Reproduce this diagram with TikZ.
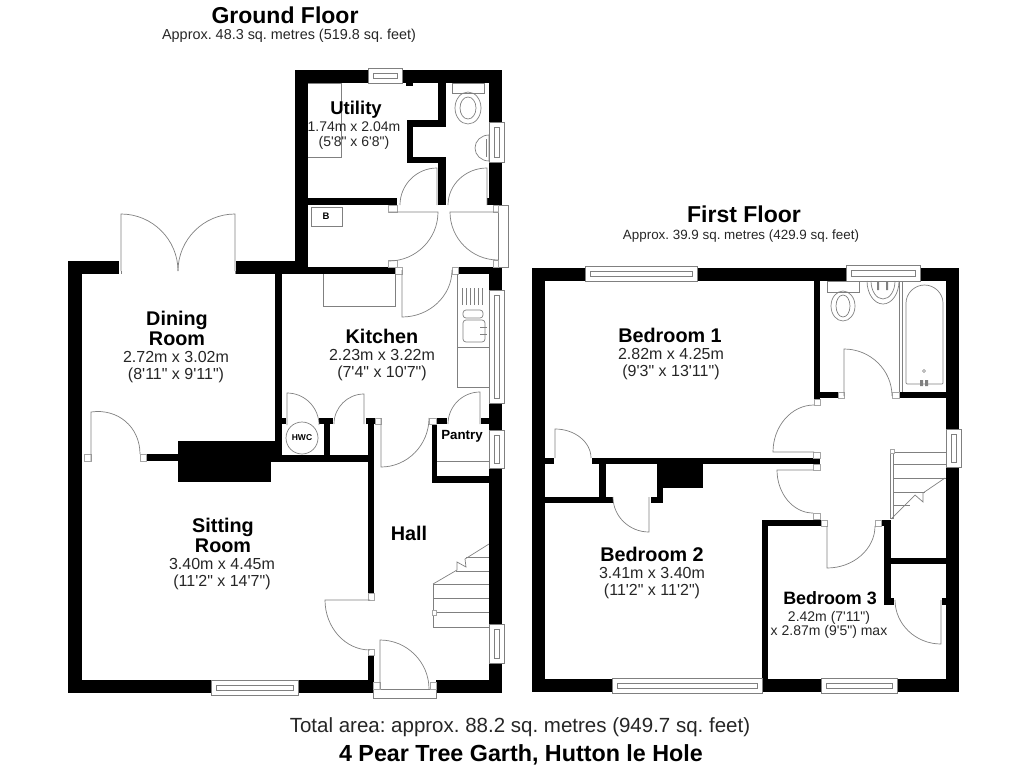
\documentclass[tikz,border=0pt]{standalone}
\usepackage{fontspec}
\defaultfontfeatures[\rmfamily]{}
\setmainfont{Liberation Sans}
\usetikzlibrary{calc}
\frenchspacing

\definecolor{linegray}{gray}{0.5}

\newcommand{\door}[3]{\draw[doorline] (#1) -- (#2) .. controls ($(#2)+0.55*(#3)-0.55*(#1)$) and ($(#3)+0.55*(#2)-0.55*(#1)$) .. (#3);}

\begin{document}
\begin{tikzpicture}[x=1pt,y=-1pt,
                    wall/.style={fill=black,draw=none},
                    doorline/.style={draw=linegray,line width=0.7pt},
                    fitting/.style={draw=linegray,line width=0.7pt},
                    jamb/.style={draw=linegray!70,fill=white,line width=0.6pt},
                    windowbox/.style={draw=linegray,fill=white,line width=0.7pt},
                    title node/.style={font=\bfseries\fontsize{23}{23}\selectfont,align=center},
                    area node/.style={font=\fontsize{14.4}{14.4}\selectfont,text=black!85},
                    room node/.style={font=\bfseries\fontsize{19.8}{20}\selectfont,align=center,inner sep=0pt},
                    size node/.style={font=\fontsize{16}{17}\selectfont,align=center,inner sep=0pt,text=black!85}]

  \useasboundingbox (0,0) rectangle (1024,768);

  % walls, ground floor
  \foreach \xa/\ya/\xb/\yb in {295/70/502/83,295/70/308/274,489/70/502/205,438/83/446/127,407/120/446/127,
      407/120/413/163,407/157/446/163,438/157/446/205,406/83/413/86,308/198/397/205,487/198/489/205,
      68/261/119/274,236/261/308/274,295/267/395/274,458/267/502/274,68/261/82/693,275/274/282/461,
      178/441/282/461,178/441/271/482,146/454/178/461,271/455/368/462,282/418/286/424,319/418/333/424,
      324/418/330/455,366/418/375/424,368/418/374/593,368/655/374/693,68/680/374/693,436/680/502/693,
      489/267/502/693,432/418/447/424,432/418/437/483,432/476/489/483,481/418/489/424}
    \fill[wall] (\xa,\ya) rectangle (\xb,\yb);

  % walls, first floor
  \foreach \xa/\ya/\xb/\yb in {532/268/959/281,532/268/545/692,946/268/959/692,532/679/959/692,814/281/820/399,
      814/392/838/398,899/392/946/398,592/458/820/464,545/458/554/464,599/464/606/503,545/497/613/503,
      657/464/703/488,657/488/663/503,651/497/663/503,762/520/821/526,762/520/768/680,884/520/891/605,
      891/558/946/564,884/598/894/605,942/598/946/605,881/520/891/526}
    \fill[wall] (\xa,\ya) rectangle (\xb,\yb);

  % windows along the top and bottom walls
  \foreach \xa/\xb/\ya/\yb in {368/402/68/83,211/298/680/695,585/697/266/281,846/920/265/281,612/762/678/693,821/897/678/693}{
    \filldraw[windowbox] (\xa,\ya) rectangle (\xb,\yb);
    \draw[fitting] (\xa+5,\ya+5) rectangle (\xb-5,\yb-5);
  }

  % windows along the side walls
  \foreach \xa/\xb/\ya/\yb in {489/504/122/162,489/504/290/403,489/504/430/468,489/504/624/663,946/961/429/467}{
    \filldraw[windowbox] (\xa,\ya) rectangle (\xb,\yb);
    \draw[fitting] (\xa+5,\ya+5) rectangle (\xb-5,\yb-5);
  }

  % outside door frames
  \filldraw[windowbox] (498,205) rectangle (508,267);
  \filldraw[windowbox] (373,689) rectangle (436,698);

  % door jambs
  \foreach \xa/\ya/\xb/\yb in {388/205/397/212,388/260/397/267,493/205/498/212,493/260/498/267,395/267/402/274,452/267/458/274,
      84/454/91/461,140/454/146/461,375/418/381/424,429/418/436/424,368/593/374/600,368/649/374/655,373/682/380/689,430/682/436/689,
      838/392/844/398,892/392/899/398,814/399/820/405,813/452/820/458,813/464/820/470,813/513/820/519,821/520/827/526,875/520/881/526}
    \filldraw[jamb] (\xa,\ya) rectangle (\xb,\yb);

  % doors, ground floor
  \door{437,205}{437,168}{400,205}
  \door{487,205}{487,168}{448,205}
  \door{389,212}{438,212}{389,261}
  \door{498,212}{450,212}{498,260}
  \door{402,270}{402,317}{452,270}
  \door{121,271}{121,214}{178,271}
  \door{235,271}{235,214}{178,271}
  \draw[doorline] (121,271) -- (121,274) (235,271) -- (235,274);
  \door{91,461}{91,412}{140,454}
  \door{287,425}{287,393}{319,425}
  \door{364,424}{364,394}{334,424}
  \door{381,418}{381,467}{429,418}
  \door{480,424}{480,392}{448,424}
  \door{370,600}{325,600}{370,650}
  \door{380,689}{380,640}{429,689}

  % doors, first floor
  \door{844,396}{844,349}{892,396}
  \door{814,452}{773,452}{814,405}
  \door{813,470}{777,470}{813,513}
  \door{827,526}{827,568}{875,526}
  \door{941,600}{941,644}{895,600}
  \door{555,458}{555,429}{591,458}
  \door{649,497}{649,532}{613,497}

  % utility and boiler
  \draw[fitting] (308,83) -- (341,83) -- (341,157) -- (308,157);
  \draw[fitting] (311,207) rectangle (342,226);
  \node[font=\bfseries\fontsize{9.5}{9}\selectfont] (boiler) at (326,216) {B};

  % ground floor toilet and basin
  \draw[fitting] (452,83) rectangle (484,93);
  \draw[fitting] (468,108) ellipse [x radius=13,y radius=16];
  \draw[fitting] (468,108) ellipse [x radius=8,y radius=11];
  \draw[fitting] (489,135) arc [start angle=-90,end angle=-270,x radius=14,y radius=13] -- cycle;
  \draw[fitting] (486,139) -- (486,157);

  % kitchen fittings
  \draw[fitting] (323,274) -- (323,306) -- (395,306) -- (395,274);
  \draw[fitting] (457,274) -- (457,387) -- (489,387);
  \draw[fitting] (457,347) -- (489,347);
  \foreach \x in {462,466,...,482}
    \draw[fitting,line width=0.5pt] (\x,288) -- (\x,305);
  \draw[fitting,rounded corners=3pt] (463,310) rectangle (483,318);
  \draw[fitting,rounded corners=3pt] (463,320) rectangle (485,342);
  \draw[fitting,line width=0.5pt] (480,327) -- (487,327) (480,334) -- (487,334);
  \draw[fitting] (302,438) circle [radius=16];
  \node[font=\bfseries\fontsize{8.5}{9}\selectfont] (hwc) at (302,438) {HWC};
  \draw[fitting] (437,461) -- (489,461);

  % stairs in the hall
  \draw[fitting] (433,584) -- (433,627) -- (489,627);
  \foreach \y in {584,598,612}
    \draw[fitting] (433,\y) -- (489,\y);
  \draw[fitting] (456,571) -- (489,571) (466,557) -- (489,557);
  \draw[fitting] (433,584) -- (457,570) -- (457,562) -- (466,567) -- (465,559) -- (489,544);
  \filldraw[jamb] (432,610) rectangle (436,615);

  % bathroom
  \draw[fitting] (902,281) -- (902,392);
  \draw[fitting] (899,281) -- (899,392);
  \draw[fitting,rounded corners=1pt] (906,384) -- (906,304) arc [start angle=180,end angle=360,x radius=18.5,y radius=19] -- (943,384) -- cycle;
  \fill[linegray] (920,380) rectangle (923,386) (925,380) rectangle (928,386);
  \draw[fitting,line width=0.5pt] (924,371) circle [radius=1.5];
  \draw[fitting] (827,281) rectangle (859,292);
  \draw[fitting] (843,306) ellipse [x radius=12,y radius=15];
  \draw[fitting] (843,306) ellipse [x radius=7,y radius=11];
  \draw[fitting] (867,281) arc [start angle=180,end angle=0,x radius=16,y radius=23];
  \draw[fitting] (871,281) arc [start angle=180,end angle=0,x radius=12,y radius=18];
  \fill[linegray] (877,281) rectangle (879,290) (886,281) rectangle (888,290);

  % stairs on the landing
  \draw[fitting] (890,452) rectangle (893,518);
  \foreach \y in {452,464,478}
    \draw[fitting] (893,\y) -- (946,\y);
  \draw[fitting] (893,492) -- (925,492) (893,505) -- (910,505);
  \draw[fitting] (892,518) -- (915,495) -- (923,502) -- (923,493) -- (945,478);
  \filldraw[jamb] (890,449) rectangle (894,453);

  % headings
  \node[title node] (ground) at (285,15) {Ground Floor};
  \node[area node] (groundarea) at (289,36) {Approx. 48.3 sq. metres (519.8 sq. feet)};
  \node[title node] (first) at (744,214) {First Floor};
  \node[area node,font=\fontsize{13.4}{13.4}\selectfont] (firstarea) at (741,236) {Approx. 39.9 sq. metres (429.9 sq. feet)};

  % rooms, ground floor
  \node[room node,font=\bfseries\fontsize{18.5}{20}\selectfont] (utility) at (356,110) {Utility};
  \node[size node,font=\fontsize{14}{15}\selectfont] (utilitysize) at (354,136) {1.74m x 2.04m\\(5'8" x 6'8")};
  \node[room node] (dining) at (177,328) {Dining\\Room};
  \node[size node] (diningsize) at (176,367) {2.72m x 3.02m\\(8'11" x 9'11")};
  \node[room node] (kitchen) at (382,336) {Kitchen};
  \node[size node] (kitchensize) at (382,365) {2.23m x 3.22m\\(7'4" x 10'7")};
  \node[font=\bfseries\fontsize{13.3}{13}\selectfont,inner sep=0pt] (pantry) at (462,436) {Pantry};
  \node[room node] (sitting) at (223,535) {Sitting\\Room};
  \node[size node] (sittingsize) at (222,574) {3.40m x 4.45m\\(11'2" x 14'7")};
  \node[room node] (hall) at (409,533) {Hall};

  % rooms, first floor
  \node[room node] (bedone) at (670,335) {Bedroom 1};
  \node[size node] (bedonesize) at (671,364) {2.82m x 4.25m\\(9'3" x 13'11")};
  \node[room node] (bedtwo) at (652,554) {Bedroom 2};
  \node[size node] (bedtwosize) at (652,583) {3.41m x 3.40m\\(11'2" x 11'2")};
  \node[font=\bfseries\fontsize{17.9}{18}\selectfont,inner sep=0pt] (bedthree) at (830,598) {Bedroom 3};
  \node[font=\fontsize{14}{14.5}\selectfont,align=center,inner sep=0pt,text=black!85] (bedthreesize) at (829,625) {2.42m (7'11")\\x 2.87m (9'5") max};

  % footer
  \node[font=\fontsize{20.5}{20.5}\selectfont,text=black!85] (total) at (520,727) {Total area: approx. 88.2 sq. metres (949.7 sq. feet)};
  \node[font=\bfseries\fontsize{23.3}{23.3}\selectfont] (address) at (521,755) {4 Pear Tree Garth, Hutton le Hole};
\end{tikzpicture}
\end{document}
